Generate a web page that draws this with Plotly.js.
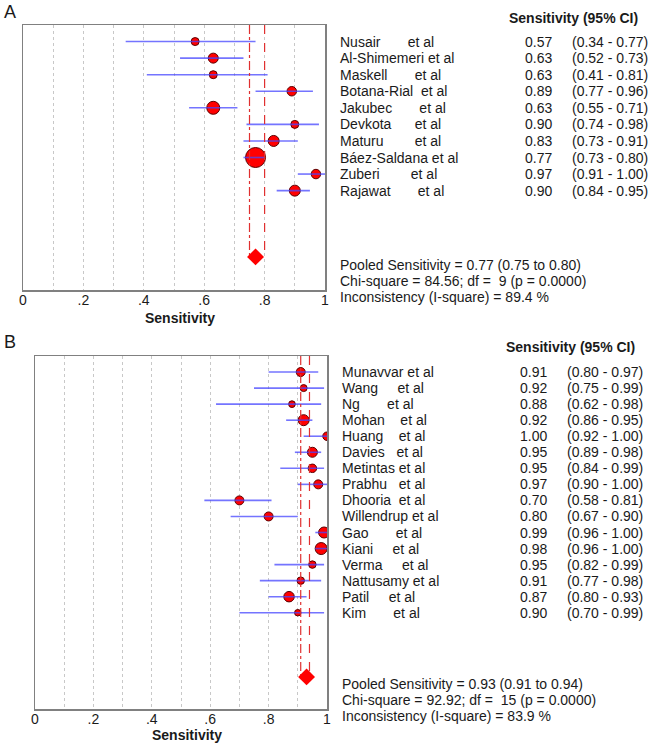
<!DOCTYPE html>
<html><head><meta charset="utf-8">
<script src="https://cdn.plot.ly/plotly-3.0.1.min.js"></script>
<style>html,body{margin:0;padding:0;background:#fff}</style>
</head><body><div id="chart" style="width:648px;height:743px"></div>
<script>
// ---------- Panel A data ----------
const labelsA = [
  "Nusair       et al",
  "Al-Shimemeri et al",
  "Maskell       et al",
  "Botana-Rial  et al",
  "Jakubec       et al",
  "Devkota      et al",
  "Maturu        et al",
  "Báez-Saldana et al",
  "Zuberi        et al",
  "Rajawat       et al"
];
const sensA = [0.57, 0.63, 0.63, 0.89, 0.63, 0.90, 0.83, 0.77, 0.97, 0.90];
const loA   = [0.34, 0.52, 0.41, 0.77, 0.55, 0.74, 0.73, 0.73, 0.91, 0.84];
const hiA   = [0.77, 0.73, 0.81, 0.96, 0.71, 0.98, 0.91, 0.80, 1.00, 0.95];
const weightsA = [6.4, 10, 6.4, 9, 16.9, 6.4, 12.1, 40, 9, 12.1];
const pooledA = [0.77, 0.75, 0.80];
const statsA = [
  "Pooled Sensitivity = 0.77 (0.75 to 0.80)",
  "Chi-square = 84.56; df =  9 (p = 0.0000)",
  "Inconsistency (I-square) = 89.4 %"
];

// ---------- Panel B data ----------
const labelsB = [
  "Munavvar et al",
  "Wang     et al",
  "Ng       et al",
  "Mohan    et al",
  "Huang    et al",
  "Davies   et al",
  "Metintas et al",
  "Prabhu   et al",
  "Dhooria  et al",
  "Willendrup et al",
  "Gao       et al",
  "Kiani     et al",
  "Verma     et al",
  "Nattusamy et al",
  "Patil     et al",
  "Kim       et al"
];
const sensB = [0.91, 0.92, 0.88, 0.92, 1.00, 0.95, 0.95, 0.97, 0.70, 0.80, 0.99, 0.98, 0.95, 0.91, 0.87, 0.90];
const loB   = [0.80, 0.75, 0.62, 0.86, 0.92, 0.89, 0.84, 0.90, 0.58, 0.67, 0.96, 0.96, 0.82, 0.77, 0.80, 0.70];
const hiB   = [0.97, 0.99, 0.98, 0.95, 1.00, 0.98, 0.99, 1.00, 0.81, 0.90, 1.00, 1.00, 0.99, 0.98, 0.93, 0.99];
const weightsB = [8.1, 4.9, 4.5, 12.1, 7.2, 10, 7.2, 8.1, 8.1, 8.1, 12.1, 14.4, 5.6, 5.6, 11, 4.2];
const pooledB = [0.93, 0.91, 0.94];
const statsB = [
  "Pooled Sensitivity = 0.93 (0.91 to 0.94)",
  "Chi-square = 92.92; df =  15 (p = 0.0000)",
  "Inconsistency (I-square) = 83.9 %"
];

const tickVals = [0,0.1,0.2,0.3,0.4,0.5,0.6,0.7,0.8,0.9,1];
const tickText = ["0","",".2","",".4","",".6","",".8","","1"];

// ---------- build ----------
const W = 648, H = 743;
const FONT = "Liberation Sans, Arial, sans-serif";
const TXT = "#1a1a1a";
const nb = s => s.replace(/ /g, "\u00a0");

const traces = [];
const annotations = [];

function panel(cfg) {
  const {labels, sens, lo, hi, weights, pooled, stats, xa, ya, diamondRow, nameX, valX, ciX, headerX, headerY, statsY, statsStep, titleY, letter, letterY} = cfg;
  const rows = sens.map((_, i) => i + 1);
  // study markers
  traces.push({
    type: "scatter", mode: "markers", xaxis: xa, yaxis: ya,
    x: sens, y: rows,
    marker: {symbol: "circle", color: "#ff0000", opacity: 1, size: weights.map(w => Math.sqrt(w * 10)),
             line: {color: "#5a0000", width: 1}},
    hoverinfo: "skip"
  });
  // CI lines
  const cx = [], cy = [];
  rows.forEach((r, i) => { cx.push(lo[i], hi[i], null); cy.push(r, r, null); });
  traces.push({
    type: "scatter", mode: "lines", xaxis: xa, yaxis: ya,
    x: cx, y: cy, line: {color: "rgba(70,70,255,0.75)", width: 1.6}, hoverinfo: "skip"
  });
  // pooled CI vertical lines
  traces.push({
    type: "scatter", mode: "lines", xaxis: xa, yaxis: ya,
    x: [pooled[1], pooled[1]], y: [0, diamondRow],
    line: {color: "#e03030", width: 1.2, dash: "dashdot"}, hoverinfo: "skip"
  });
  traces.push({
    type: "scatter", mode: "lines", xaxis: xa, yaxis: ya,
    x: [pooled[2], pooled[2]], y: [0, diamondRow],
    line: {color: "#e03030", width: 1.2, dash: "dash"}, hoverinfo: "skip"
  });
  // pooled diamond
  traces.push({
    type: "scatter", mode: "markers", xaxis: xa, yaxis: ya,
    x: [pooled[0]], y: [diamondRow],
    marker: {symbol: "diamond", size: 13, color: "#ff0000", opacity: 1, line: {color: "#ff0000", width: 0}},
    hoverinfo: "skip"
  });
  // right-hand table
  annotations.push({xref: "paper", yref: "paper", x: headerX / W, y: 1 - headerY / H, xanchor: "right", yanchor: "middle",
    text: "<b>Sensitivity (95% CI)</b>", showarrow: false, font: {size: 14, color: TXT}});
  rows.forEach((r, i) => {
    annotations.push({xref: "paper", yref: ya, x: nameX / W, y: r, xanchor: "left", yanchor: "middle",
      text: nb(labels[i]), showarrow: false, font: {size: 14, color: TXT}});
    annotations.push({xref: "paper", yref: ya, x: valX / W, y: r, xanchor: "right", yanchor: "middle",
      text: sens[i].toFixed(2), showarrow: false, font: {size: 14, color: TXT}});
    annotations.push({xref: "paper", yref: ya, x: ciX / W, y: r, xanchor: "left", yanchor: "middle",
      text: nb("(" + lo[i].toFixed(2) + " - " + hi[i].toFixed(2) + ")"), showarrow: false, font: {size: 14, color: TXT}});
  });
  stats.forEach((s, k) => {
    annotations.push({xref: "paper", yref: "paper", x: nameX / W, y: 1 - (statsY + k * statsStep) / H, xanchor: "left", yanchor: "middle",
      text: nb(s), showarrow: false, font: {size: 14, color: TXT}});
  });
  // axis title
  annotations.push({xref: xa, yref: "paper", x: 0.52, y: 1 - titleY / H, xanchor: "center", yanchor: "middle",
    text: "<b>Sensitivity</b>", showarrow: false, font: {size: 14, color: TXT}});
  // panel letter
  annotations.push({xref: "paper", yref: "paper", x: 2 / W, y: 1 - letterY / H, xanchor: "left", yanchor: "middle",
    text: letter, showarrow: false, font: {size: 18, color: TXT}});
}

panel({labels: labelsA, sens: sensA, lo: loA, hi: hiA, weights: weightsA, pooled: pooledA, stats: statsA,
  xa: "x", ya: "y", diamondRow: 14, nameX: 338, valX: 554, ciX: 570, headerX: 640, headerY: 18,
  statsY: 265, statsStep: 16, titleY: 318, letter: "A", letterY: 12});
panel({labels: labelsB, sens: sensB, lo: loB, hi: hiB, weights: weightsB, pooled: pooledB, stats: statsB,
  xa: "x2", ya: "y2", diamondRow: 20, nameX: 340, valX: 549, ciX: 565, headerX: 637, headerY: 347,
  statsY: 684, statsStep: 16, titleY: 735, letter: "B", letterY: 342});

function xAxis(dom, anchor) {
  return {domain: dom, anchor: anchor, range: [0, 1], tickvals: tickVals, ticktext: tickText,
    showgrid: true, gridcolor: "#c8c8c8", griddash: "dot", gridwidth: 1,
    showline: true, mirror: true, linecolor: "#808080", linewidth: 1.5,
    ticks: "", zeroline: false, fixedrange: true, ticklabelstandoff: -3,
    tickfont: {size: 14, color: TXT, family: FONT}};
}
function yAxis(dom, anchor, range) {
  return {domain: dom, anchor: anchor, range: range, showticklabels: false, showgrid: false, zeroline: false,
    showline: true, mirror: true, linecolor: "#808080", linewidth: 1.5, ticks: "", fixedrange: true};
}

const layout = {
  width: W, height: H, margin: {l: 0, r: 0, t: 0, b: 0},
  paper_bgcolor: "#ffffff", plot_bgcolor: "#ffffff", showlegend: false,
  font: {family: FONT, size: 14, color: TXT},
  xaxis: xAxis([23 / W, 325 / W], "y"),
  yaxis: yAxis([1 - 290 / H, 1 - 25 / H], "x", [16, 0]),
  xaxis2: xAxis([35 / W, 327 / W], "y2"),
  yaxis2: yAxis([1 - 709 / H, 1 - 356 / H], "x2", [22, 0]),
  annotations: annotations
};

Plotly.newPlot("chart", traces, layout, {displayModeBar: false, staticPlot: true});
</script></body></html>
